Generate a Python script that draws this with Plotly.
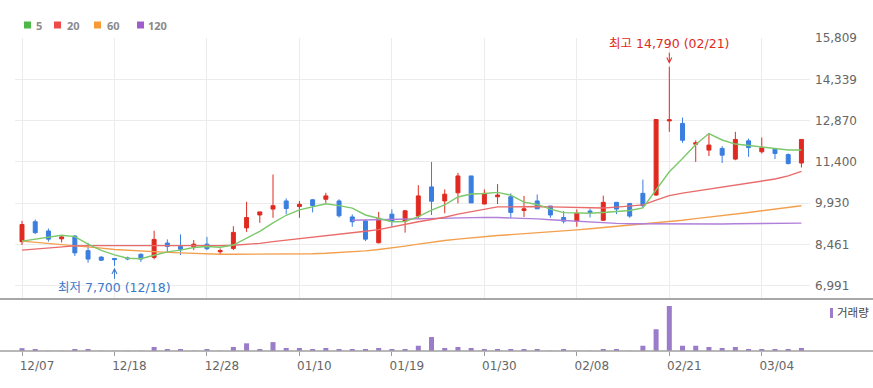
import plotly.graph_objects as go

# ---------------- data ----------------
dates = ["12/07", "12/08", "12/11", "12/12", "12/13", "12/14", "12/15", "12/18", "12/19", "12/20",
         "12/21", "12/22", "12/26", "12/27", "12/28", "01/02", "01/03", "01/04", "01/05", "01/08",
         "01/09", "01/10", "01/11", "01/12", "01/15", "01/16", "01/17", "01/18", "01/19", "01/22",
         "01/23", "01/24", "01/25", "01/26", "01/29", "01/30", "01/31", "02/01", "02/02", "02/05",
         "02/06", "02/07", "02/08", "02/13", "02/14", "02/15", "02/16", "02/19", "02/20", "02/21",
         "02/22", "02/23", "02/26", "02/27", "02/28", "02/29", "03/04", "03/05", "03/06", "03/07"]

open_ = [8560, 9270, 8940, 8660, 8760, 8240, 8010, 7960, 7980, 8110,
         8000, 8510, 8390, 8380, 8470, 8200, 8320, 9050, 9510, 9720,
         10010, 9810, 10050, 10070, 10010, 9440, 9300, 8520, 9540, 9290,
         9470, 10510, 10010, 10300, 10900, 9900, 10160, 10160, 9670, 10010,
         9830, 9420, 9290, 9650, 9320, 9960, 9920, 10280, 10220, 12860,
         12770, 12030, 11820, 11880, 11500, 12150, 11760, 11850, 11660, 11360]
high = [9300, 9350, 9030, 8790, 8790, 8520, 8040, 7970, 8030, 8140,
        8950, 8640, 8820, 8620, 8730, 8320, 9110, 9980, 9620, 10950,
        10100, 10010, 10080, 10300, 10070, 9530, 9350, 9620, 9710, 9680,
        10570, 11400, 10420, 11010, 10900, 10420, 10610, 10280, 10190, 10240,
        9830, 9650, 9710, 9740, 10200, 9960, 9920, 10770, 12910, 14790,
        12980, 12170, 12430, 11960, 12470, 12230, 12270, 11850, 11700, 12200]
low = [8440, 8830, 8560, 8530, 8050, 7810, 7870, 7700, 7900, 7840,
       7930, 8160, 8080, 8260, 8260, 8080, 8260, 8910, 9230, 9410,
       9540, 9410, 9600, 9940, 9420, 9090, 8580, 8500, 9090, 8880,
       9390, 9510, 9570, 9920, 9940, 9900, 9900, 9390, 9440, 9730,
       9410, 9210, 9090, 9420, 9300, 9540, 9410, 9760, 10190, 12470,
       12080, 11400, 11610, 11360, 11460, 11580, 11700, 11500, 11310, 11200]
close = [9170, 8880, 8650, 8730, 8160, 7940, 7900, 7920, 7950, 7940,
         8640, 8390, 8290, 8470, 8310, 8240, 8890, 9420, 9620, 9840,
         9740, 9890, 9850, 10190, 9480, 9270, 8650, 9390, 9290, 9660,
         10190, 10000, 10250, 10900, 9940, 10280, 10220, 9600, 9730, 9730,
         9510, 9290, 9570, 9600, 9960, 9720, 9470, 9840, 12910, 12900,
         12170, 12080, 12000, 11640, 12200, 11910, 11900, 11700, 11340, 12200]

volume = [280000, 200000, 30000, 30000, 200000, 200000, 30000, 30000, 30000, 30000,
          400000, 200000, 200000, 30000, 200000, 30000, 400000, 760000, 200000, 880000,
          300000, 300000, 200000, 300000, 200000, 200000, 200000, 300000, 200000, 200000,
          520000, 1380000, 300000, 400000, 300000, 200000, 200000, 200000, 200000, 200000,
          30000, 200000, 30000, 30000, 200000, 200000, 30000, 520000, 2150000, 4450000,
          520000, 520000, 400000, 300000, 400000, 200000, 200000, 200000, 200000, 300000]

ma5 = [8580, 8650, 8710, 8790, 8740, 8470, 8250, 8090, 7970, 7950,
       8075, 8195, 8260, 8350, 8390, 8360, 8440, 8690, 8930, 9230,
       9500, 9690, 9790, 9910, 9845, 9755, 9510, 9390, 9270, 9280,
       9450, 9680, 9870, 10150, 10255, 10275, 10315, 10215, 9965, 9885,
       9720, 9595, 9580, 9570, 9600, 9635, 9670, 9760, 10420, 11050,
       11520, 12020, 12410, 12180, 12035, 11980, 11945, 11870, 11825, 11825]
ma20 = [8260, 8300, 8350, 8390, 8410, 8420, 8425, 8425, 8420, 8420,
        8420, 8420, 8415, 8415, 8415, 8420, 8430, 8460, 8500, 8560,
        8610, 8660, 8710, 8770, 8820, 8880, 8930, 8990, 9090, 9180,
        9270, 9350, 9430, 9540, 9620, 9700, 9800, 9800, 9810, 9810,
        9800, 9790, 9780, 9770, 9760, 9790, 9820, 9870, 10040, 10200,
        10290, 10360, 10430, 10500, 10560, 10630, 10700, 10790, 10900, 11060]
ma60 = [8580, 8540, 8500, 8460, 8430, 8380, 8330, 8280, 8250, 8220,
        8200, 8180, 8160, 8140, 8120, 8110, 8110, 8110, 8110, 8110,
        8115, 8120, 8130, 8145, 8165, 8190, 8230, 8280, 8330, 8400,
        8470, 8540, 8600, 8650, 8700, 8740, 8780, 8810, 8840, 8870,
        8900, 8940, 8980, 9020, 9060, 9100, 9140, 9180, 9220, 9270,
        9320, 9380, 9430, 9490, 9540, 9600, 9660, 9720, 9780, 9840]
ma120 = [None] * 25 + [
        9320, 9330, 9345, 9360, 9375,
        9390, 9400, 9410, 9420, 9425, 9425, 9420, 9410, 9390, 9370,
        9340, 9310, 9280, 9250, 9225, 9210, 9200, 9195, 9190, 9185,
        9185, 9185, 9190, 9190, 9195, 9200, 9205, 9210, 9215, 9220]

price_ticks = [6991, 8461, 9930, 11400, 12870, 14339, 15809]
x_tick_dates = ["12/07", "12/18", "12/28", "01/10", "01/19", "01/30", "02/08", "02/21", "03/04"]
ma_names = ["5", "20", "60", "120"]
high_label = "최고 14,790 (02/21)"
low_label = "최저 7,700 (12/18)"
volume_label = "거래량"

# ---------------- styles ----------------
RED = "#e02a20"
BLUE = "#3a7ee0"
MA_COLORS = ["#7cc86a", "#ea6b6b", "#f3a04e", "#b07fd9"]
LEGEND_COLORS = ["#4cb847", "#ee4a4a", "#f79a35", "#9f5ccc"]
VOL_COLOR = "#9a7ccb"
GRID = "#ececec"
FONT = "DejaVu Sans, Noto Sans CJK KR, sans-serif"

W, H = 873, 388
ML, MR, MT, MB = 15, 63, 38, 37
PW, PH = W - ML - MR, H - MT - MB


def px_x(px):
    return (px - ML) / PW


def px_y(py):
    return (H - MB - py) / PH


price_bottom_px = 299
vol_top_px = 300

fig = go.Figure()

fig.add_trace(go.Bar(x=dates, y=volume, marker=dict(color=VOL_COLOR, line=dict(width=0)),
                     width=0.38, xaxis="x2", yaxis="y2", hoverinfo="skip"))

for ma, col in zip([ma60, ma120, ma20, ma5], [MA_COLORS[2], MA_COLORS[3], MA_COLORS[1], MA_COLORS[0]]):
    fig.add_trace(go.Scatter(x=dates, y=ma, mode="lines", line=dict(color=col, width=1.4),
                             xaxis="x", yaxis="y", hoverinfo="skip"))

fig.add_trace(go.Candlestick(
    x=dates, open=open_, high=high, low=low, close=close,
    increasing=dict(line=dict(color=RED, width=1), fillcolor=RED),
    decreasing=dict(line=dict(color=BLUE, width=1), fillcolor=BLUE),
    whiskerwidth=0, xaxis="x", yaxis="y", hoverinfo="skip"))

shapes = [
    dict(type="line", xref="paper", yref="paper", x0=px_x(0), x1=px_x(W), y0=px_y(price_bottom_px),
         y1=px_y(price_bottom_px), line=dict(color="#a8a8a8", width=2)),
    dict(type="line", xref="paper", yref="paper", x0=px_x(0), x1=px_x(W), y0=0, y1=0,
         line=dict(color="#a0a0a0", width=1.5)),
]
annotations = []

# legend
leg_sq_x = [24, 54, 94, 137]
leg_tx_x = [34, 65, 105, 146]
for name, col, sx, tx in zip(ma_names, LEGEND_COLORS, leg_sq_x, leg_tx_x):
    shapes.append(dict(type="rect", xref="paper", yref="paper", x0=px_x(sx), x1=px_x(sx + 7),
                       y0=px_y(28.5), y1=px_y(21.5), line=dict(width=0), fillcolor=col))
    annotations.append(dict(xref="paper", yref="paper", x=px_x(tx), y=px_y(25), xanchor="left",
                            yanchor="middle", text="<b>%s</b>" % name, showarrow=False,
                            font=dict(family="Noto Sans, sans-serif", size=11, color="#8a8a8a")))

# volume label
shapes.append(dict(type="rect", xref="paper", yref="paper", x0=px_x(830), x1=px_x(833),
                   y0=px_y(318), y1=px_y(308), line=dict(width=0), fillcolor=VOL_COLOR))
annotations.append(dict(xref="paper", yref="paper", x=px_x(835), y=px_y(313), xanchor="left",
                        yanchor="middle", text=volume_label, showarrow=False,
                        font=dict(family=FONT, size=11.5, color="#444")))

# high / low marks
annotations.append(dict(x=dates[high.index(max(high))], y=max(high), xref="x", yref="y",
                        text=high_label, showarrow=True, arrowhead=5, arrowsize=1, arrowwidth=1,
                        arrowcolor=RED, ax=0, ay=-23, standoff=3,
                        font=dict(family=FONT, size=12.5, color=RED)))
annotations.append(dict(x=dates[low.index(min(low))], y=min(low), xref="x", yref="y",
                        text=low_label, showarrow=True, arrowhead=5, arrowsize=1, arrowwidth=1,
                        arrowcolor="#3c78c8", ax=0, ay=22, standoff=2,
                        font=dict(family=FONT, size=12.5, color="#3c78c8")))

price_lo = 6991 - (price_bottom_px - 285.7) * (15809 - 6991) / (285.7 - 37.7)
vol_max = max(volume) * (H - MB - vol_top_px) / 45.0

fig.update_layout(
    width=W, height=H, margin=dict(l=ML, r=MR, t=MT, b=MB, pad=0),
    paper_bgcolor="white", plot_bgcolor="white", showlegend=False,
    boxgap=0.70, boxgroupgap=0,
    xaxis=dict(domain=[0, 1], anchor="y", type="category", categoryorder="array",
               categoryarray=dates, range=[-0.53, 59.65], tickvals=x_tick_dates,
               showticklabels=False, ticks="", showgrid=True, gridcolor=GRID, gridwidth=1,
               zeroline=False, showline=False, rangeslider=dict(visible=False), fixedrange=True),
    xaxis2=dict(anchor="y2", matches="x", type="category", tickvals=x_tick_dates,
                ticks="outside", ticklen=4, tickcolor="#9a9a9a", tickwidth=1, showgrid=False,
                zeroline=False, showline=False, ticklabelshift=15,
                tickfont=dict(family=FONT, size=12, color="#666")),
    yaxis=dict(domain=[px_y(price_bottom_px), 1], anchor="x", range=[price_lo, 15812],
               side="right", tickvals=price_ticks, tickformat=",d", ticks="",
               ticklabelstandoff=4, showgrid=True, gridcolor=GRID, gridwidth=1,
               zeroline=False, showline=False, tickfont=dict(family=FONT, size=12, color="#666")),
    yaxis2=dict(domain=[0, px_y(vol_top_px)], anchor="x2", range=[0, vol_max],
                showticklabels=False, showgrid=False, zeroline=False, showline=False),
    shapes=shapes, annotations=annotations,
)

fig.write_html("out.html", config={"displayModeBar": False, "staticPlot": True},
               post_script="document.body.style.margin='0';document.body.style.overflow='hidden';")
